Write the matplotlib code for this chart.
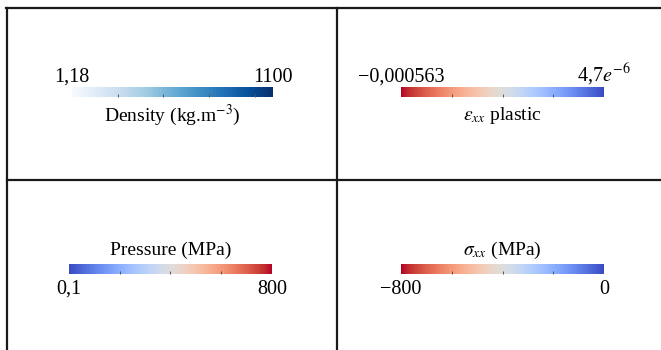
import numpy as np
import matplotlib
matplotlib.use("Agg")
import matplotlib.pyplot as plt
from matplotlib import colors, cm
from matplotlib.lines import Line2D

plt.rcParams["font.family"] = ["Liberation Serif", "DejaVu Serif"]
plt.rcParams["mathtext.fontset"] = "stix"

# colour bar ranges, end labels, inner ticks and titles
density_range = [1.18, 1100]
density_labels = ["1,18", "1100"]
density_ticks = [250, 500, 750, 1000]
density_title = "Density (kg.m$^{-3}$)"

strain_range = [-0.000563, 4.7e-6]
strain_labels = ["\u22120,000563", "4,7$e^{-6}$"]
strain_title = r"$\varepsilon_{xx}$ plastic"

pressure_range = [0.1, 800]
pressure_labels = ["0,1", "800"]
pressure_ticks = [200, 400, 600]
pressure_title = "Pressure (MPa)"

stress_range = [-800, 0]
stress_labels = ["\u2212800", "0"]
stress_ticks = [-600, -400, -200]
stress_title = r"$\sigma_{xx}$ (MPa)"

W, H = 661, 350
fig = plt.figure(figsize=(W / 100, H / 100), dpi=100)


def colourbar(x0, x1, y0, y1, cmap, vrange, labels, inner, title, label_y, title_y):
    ax = fig.add_axes([x0 / W, 1 - y1 / H, (x1 - x0) / W, (y1 - y0) / H])
    norm = colors.Normalize(vmin=vrange[0], vmax=vrange[1])
    cb = fig.colorbar(cm.ScalarMappable(norm=norm, cmap=cmap), cax=ax,
                      orientation="horizontal")
    cb.outline.set_visible(False)
    ax.set_xticks([])
    ax.set_xticks(inner, minor=True)
    ax.tick_params(which="minor", bottom=True, top=False, direction="in",
                   length=2.5, width=0.7, color="#555555")
    for x, s in zip((x0, x1), labels):
        fig.text(x / W, 1 - label_y / H, s, ha="center", va="baseline", fontsize=14.5)
    fig.text((x0 + x1) / 2 / W, 1 - title_y / H, title, ha="center", va="baseline",
             fontsize=14)


colourbar(72, 273, 87, 96.5, "Blues", density_range, density_labels,
          density_ticks, density_title, 81.5, 121.5)
colourbar(401, 604, 86.5, 96.5, "coolwarm_r", strain_range, strain_labels,
          np.linspace(strain_range[0], strain_range[1], 5)[1:-1], strain_title, 81.5, 120.5)
colourbar(69, 272, 263.5, 274, "coolwarm", pressure_range, pressure_labels,
          pressure_ticks, pressure_title, 294, 255)
colourbar(401, 604, 263.5, 274, "coolwarm_r", stress_range, stress_labels,
          stress_ticks, stress_title, 293.5, 255)

# panel frame lines
frame = dict(color="#1a1a1a", linewidth=1.6, transform=fig.transFigure)
fig.add_artist(Line2D([7 / W, 7 / W], [0, 1 - 8 / H], **frame))
fig.add_artist(Line2D([6.4 / W, 1], [1 - 8 / H, 1 - 8 / H], **frame))
fig.add_artist(Line2D([336.5 / W, 336.5 / W], [0, 1 - 8 / H], **frame))
fig.add_artist(Line2D([7 / W, 1], [1 - 180 / H, 1 - 180 / H], **frame))

fig.savefig("out.png", dpi=100)
